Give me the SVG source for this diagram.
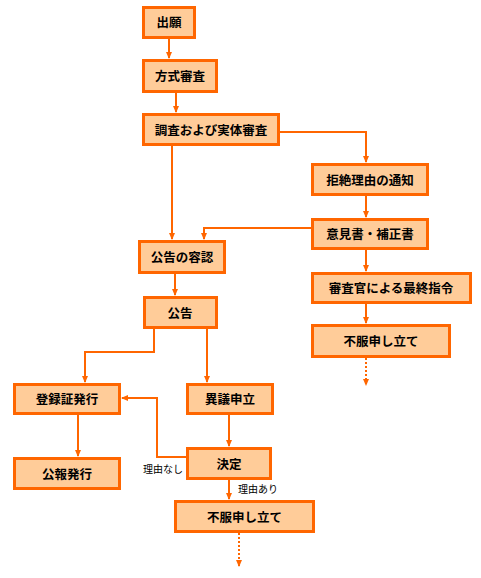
<svg xmlns="http://www.w3.org/2000/svg" width="481" height="578" viewBox="0 0 481 578">
<style>
.box{fill:#FFCC99;stroke:#FF6600;stroke-width:3}
.t{font-family:"Noto Sans CJK JP","Noto Sans",sans-serif;font-size:12.5px;font-weight:bold;fill:#000;text-anchor:middle}
.lb{font-family:"Noto Sans CJK JP","Noto Sans",sans-serif;font-size:10px;fill:#000}
.c{fill:none;stroke:#FF6600;stroke-width:2}
.d{fill:none;stroke:#FF6600;stroke-width:2;stroke-dasharray:2 2}
</style>
<defs>
<marker id="a" markerWidth="7" markerHeight="6" refX="6" refY="3" orient="auto" markerUnits="userSpaceOnUse">
<path d="M0,0 L7,3 L0,6 z" fill="#FF6600"/>
</marker>
</defs>
<g id="connectors">
<path class="c" d="M169,38 V58" marker-end="url(#a)"/>
<path class="c" d="M176,93 V112" marker-end="url(#a)"/>
<path class="c" d="M280,132 H366 V162" marker-end="url(#a)"/>
<path class="c" d="M366,196 V217" marker-end="url(#a)"/>
<path class="c" d="M366,250 V271" marker-end="url(#a)"/>
<path class="c" d="M366,304 V323" marker-end="url(#a)"/>
<path class="d" d="M366,358 V385" marker-end="url(#a)"/>
<path class="c" d="M172,146 V239" marker-end="url(#a)"/>
<path class="c" d="M311,228 H204 V239" marker-end="url(#a)"/>
<path class="c" d="M175,274 V295" marker-end="url(#a)"/>
<path class="c" d="M154,329 V352 H85 V382" marker-end="url(#a)"/>
<path class="c" d="M207,329 V382" marker-end="url(#a)"/>
<path class="c" d="M78,415 V456" marker-end="url(#a)"/>
<path class="c" d="M229,415 V446" marker-end="url(#a)"/>
<path class="c" d="M186,457 H157 V398 H122" marker-end="url(#a)"/>
<path class="c" d="M229,480 V499" marker-end="url(#a)"/>
<path class="d" d="M239,533 V566" marker-end="url(#a)"/>
</g>
<g id="n1"><rect class="box" x="143.5" y="7.5" width="51" height="30"/><text class="t" x="169" y="27">出願</text></g>
<g id="n2"><rect class="box" x="143.5" y="60.5" width="73" height="31"/><text class="t" x="180" y="81">方式審査</text></g>
<g id="n3"><rect class="box" x="143.5" y="114.5" width="135" height="30"/><text class="t" x="211" y="134.5">調査および実体審査</text></g>
<g id="n4"><rect class="box" x="312.5" y="164.5" width="115" height="30"/><text class="t" x="370" y="184.5">拒絶理由の通知</text></g>
<g id="n5"><rect class="box" x="312.5" y="219.5" width="115" height="29"/><text class="t" x="370" y="239">意見書・補正書</text></g>
<g id="n6"><rect class="box" x="312.5" y="273.5" width="158" height="29"/><text class="t" x="391" y="293">審査官による最終指令</text></g>
<g id="n7"><rect class="box" x="312.5" y="325.5" width="137" height="31"/><text class="t" x="381" y="346">不服申し立て</text></g>
<g id="n8"><rect class="box" x="139.5" y="241.5" width="85" height="31"/><text class="t" x="182" y="262">公告の容認</text></g>
<g id="n9"><rect class="box" x="144.5" y="297.5" width="72" height="30"/><text class="t" x="180" y="317.5">公告</text></g>
<g id="n10"><rect class="box" x="14.5" y="384.5" width="105" height="29"/><text class="t" x="67" y="404">登録証発行</text></g>
<g id="n11"><rect class="box" x="187.5" y="384.5" width="85" height="29"/><text class="t" x="230" y="404">異議申立</text></g>
<g id="n12"><rect class="box" x="14.5" y="458.5" width="105" height="30"/><text class="t" x="67" y="478.5">公報発行</text></g>
<g id="n13"><rect class="box" x="187.5" y="448.5" width="83" height="30"/><text class="t" x="229" y="468.5">決定</text></g>
<g id="n14"><rect class="box" x="175.5" y="501.5" width="138" height="30"/><text class="t" x="244.5" y="521.5">不服申し立て</text></g>
<text class="lb" x="143" y="473">理由なし</text>
<text class="lb" x="238" y="493">理由あり</text>
</svg>
